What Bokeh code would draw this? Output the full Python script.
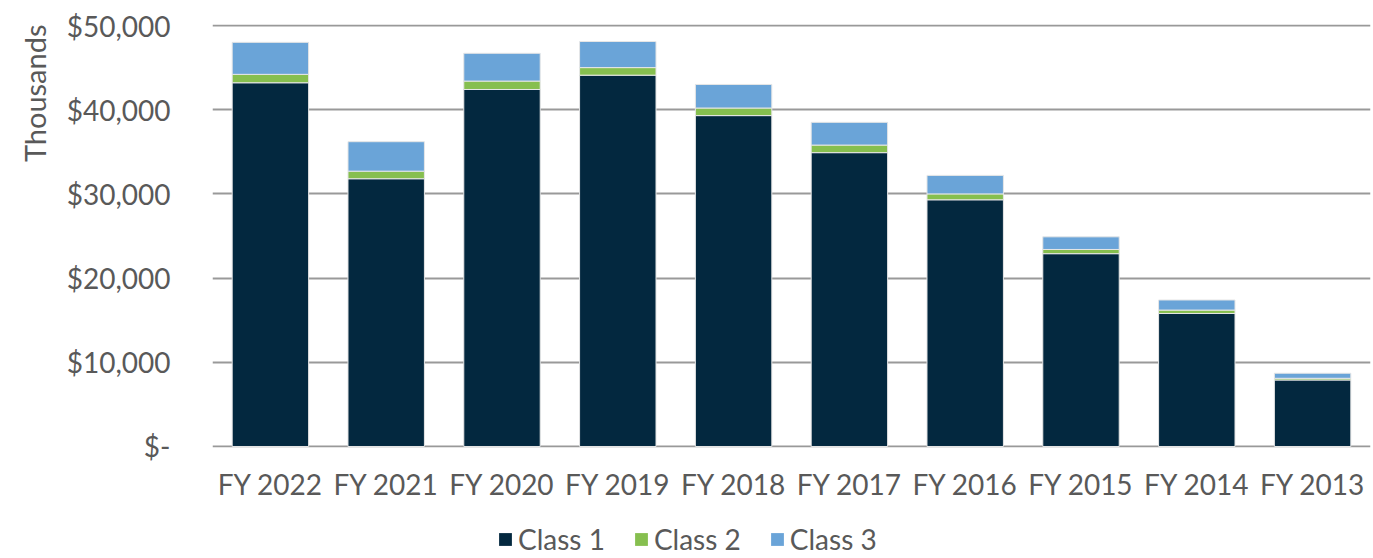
from bokeh.plotting import figure
from bokeh.models import (FactorRange, Range1d, CustomJSTickFormatter, Legend,
                          LegendItem, Title, ColumnDataSource, SingleIntervalTicker)
from bokeh.layouts import column
from bokeh.embed import file_html
from bokeh.resources import INLINE

years = ["FY 2022", "FY 2021", "FY 2020", "FY 2019", "FY 2018",
         "FY 2017", "FY 2016", "FY 2015", "FY 2014", "FY 2013"]
class1 = [43200, 31800, 42400, 44100, 39300, 34900, 29300, 22900, 15800, 7900]
class2 = [1000, 900, 1000, 900, 900, 900, 700, 500, 400, 200]
class3 = [3800, 3500, 3300, 3100, 2800, 2700, 2200, 1500, 1200, 600]
series = ["Class 1", "Class 2", "Class 3"]
colors = ["#03283f", "#86bf4f", "#6aa4d8"]

FONT = "Lato"
GREY = "#595959"
W = 1372

src = ColumnDataSource(dict(years=years, c1=class1, c2=class2, c3=class3))

p = figure(x_range=FactorRange(*years), y_range=Range1d(-120, 50120),
           width=W, height=520, output_backend="svg", toolbar_location=None,
           min_border_left=212, min_border_right=2, min_border_top=24,
           min_border_bottom=73)
p.outline_line_color = None

r = p.vbar_stack(["c1", "c2", "c3"], x="years", width=0.66, source=src,
                 color=colors, line_color="#e6e6e6", line_width=1)

p.x_range.range_padding = 0
p.xgrid.grid_line_color = None
p.ygrid.grid_line_color = "#999999"
p.ygrid.grid_line_width = 2
p.yaxis.ticker = SingleIntervalTicker(interval=10000)
p.yaxis.formatter = CustomJSTickFormatter(code="""
    return tick == 0 ? "$-" : "$" + tick.toLocaleString("en-US");
""")
for ax in (p.xaxis[0], p.yaxis[0]):
    ax.axis_line_color = None
    ax.major_tick_line_color = None
    ax.minor_tick_line_color = None
    ax.major_label_text_font = FONT
    ax.major_label_text_font_size = "28px"
    ax.major_label_text_color = GREY
p.yaxis.major_label_standoff = 36
p.xaxis.major_label_standoff = 13

p.add_layout(Title(text="Thousands", align="right", text_font=FONT,
                   text_font_size="29px", text_font_style="normal",
                   text_color=GREY, standoff=24), "left")

# legend strip below the chart (dummy zero-size renderers only feed the legend)
lg = figure(width=W, height=36, output_backend="svg", toolbar_location=None,
            x_range=Range1d(0, 1), y_range=Range1d(0, 1),
            x_axis_type=None, y_axis_type=None, min_border=0)
lg.outline_line_color = None
lg.xgrid.grid_line_color = None
lg.ygrid.grid_line_color = None
lr = [lg.vbar(x=[0], top=[0], width=0, fill_color=c, line_color=c, line_width=0)
      for c in colors]
legend = Legend(items=[LegendItem(label=s, renderers=[rr]) for s, rr in zip(series, lr)],
                orientation="horizontal", location=(285, 0),
                label_text_font=FONT, label_text_font_size="28px",
                label_text_color=GREY, glyph_width=16, glyph_height=16,
                spacing=28, label_standoff=5, border_line_color=None,
                background_fill_alpha=0, padding=0, margin=0)
lg.add_layout(legend, "center")

layout = column(p, lg, spacing=0)
open("out.html", "w").write(file_html(layout, INLINE))
